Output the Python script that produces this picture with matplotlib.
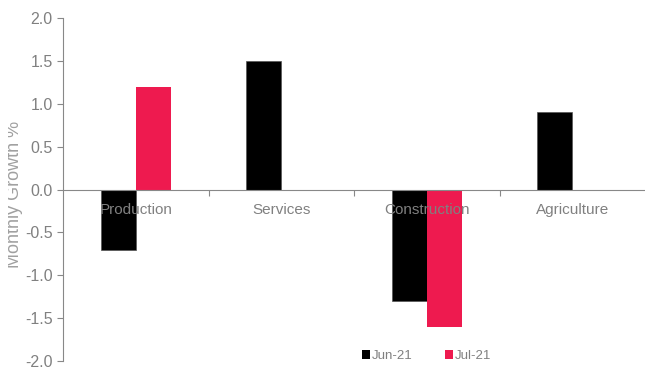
import matplotlib
matplotlib.use("Agg")
import matplotlib.pyplot as plt
import numpy as np
from matplotlib.patches import Patch
from matplotlib.transforms import Bbox

categories = ["Production", "Services", "Construction", "Agriculture"]
jun21 = [-0.7, 1.5, -1.3, 0.9]
jul21 = [1.2, 0.0, -1.6, 0.0]
series_names = ["Jun-21", "Jul-21"]
colors = ["#000000", "#EE1A4F"]

plt.rcParams['font.family'] = ['Liberation Sans', 'DejaVu Sans']
gray = "#888888"
txt = "#808080"

fig = plt.figure(figsize=(6.45, 3.69), dpi=100)
ax = fig.add_axes([63/645, 1-361/369, 1-63/645, (361-18)/369])

x = np.arange(len(categories))
w = 0.24
ax.bar(x - w/2, jun21, w, color=colors[0], edgecolor="#555555", linewidth=0.5, zorder=2)
ax.bar(x + w/2, jul21, w, color=colors[1], edgecolor="none", zorder=2)

ax.set_xlim(-0.5, len(categories) - 0.5)
ax.set_ylim(-2.0, 2.0)
ax.set_yticks(np.arange(-2.0, 2.01, 0.5))
ax.set_yticklabels([f"{v:.1f}" for v in np.arange(-2.0, 2.01, 0.5)])

for s in ["top", "right"]:
    ax.spines[s].set_visible(False)
ax.spines["left"].set_color(gray)
ax.spines["bottom"].set_color(gray)
ax.spines["bottom"].set_position(("data", 0))
ax.spines["bottom"].set_zorder(3)
ax.xaxis.set_zorder(4)

ax.tick_params(axis="y", colors=gray, labelcolor=txt, labelsize=11.5, length=4, width=0.8, direction="out")
ax.set_xticks(x)
ax.set_xticklabels(categories)
ax.set_xticks(np.arange(0.5, len(categories) - 0.5, 1.0), minor=True)
ax.tick_params(axis="x", which="major", length=0, labelsize=11, labelcolor=txt, pad=10)
ax.tick_params(axis="x", which="minor", length=4, width=0.8, color=gray, direction="out")

yl = fig.text(19/645, 1-194/369, "Monthly Growth %", rotation=90, ha="center", va="baseline",
              rotation_mode="anchor", color="#a0a0a0", fontsize=13)
yl.set_clip_box(Bbox.from_extents(8, 0, 645, 369))
yl.set_clip_on(True)

handles = [Patch(facecolor=c, edgecolor="none") for c in colors]
fig.legend(handles, series_names, loc="center", bbox_to_anchor=(427/645, 1-356/369), ncol=2,
           frameon=False, fontsize=9.5, labelcolor=txt, handlelength=0.6, handleheight=0.6,
           handletextpad=0.15, columnspacing=2.45)

fig.savefig("out.png", dpi=100)
